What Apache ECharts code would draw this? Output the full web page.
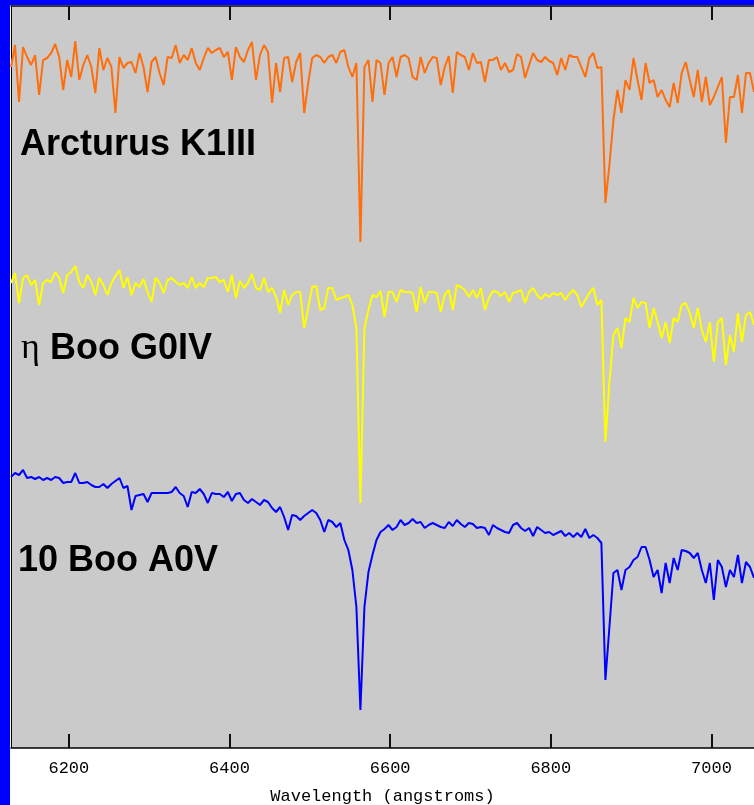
<!DOCTYPE html>
<html><head><meta charset="utf-8">
<script src="https://cdn.jsdelivr.net/npm/echarts@6/dist/echarts.min.js"></script>
<style>html,body{margin:0;padding:0;background:#fff}#c{width:754px;height:805px}</style>
</head><body><div id="c"></div>
<script>
// Wavelength sampling grid (angstroms)
const wavelengths = [
6128,6133,6138,6143,6148,6153,6158,6163,6168,6173,
6178,6183,6188,6193,6198,6203,6208,6213,6218,6223,
6228,6233,6238,6243,6248,6253,6258,6263,6268,6273,
6278,6283,6288,6293,6298,6303,6308,6313,6318,6323,
6328,6333,6338,6343,6348,6353,6358,6363,6368,6373,
6378,6383,6388,6393,6398,6403,6408,6413,6418,6423,
6428,6433,6438,6443,6448,6453,6458,6463,6468,6473,
6478,6483,6488,6493,6498,6503,6508,6513,6518,6523,
6528,6533,6538,6543,6548,6553,6558,6563,6568,6573,
6578,6583,6588,6593,6598,6603,6608,6613,6618,6623,
6628,6633,6638,6643,6648,6653,6658,6663,6668,6673,
6678,6683,6688,6693,6698,6703,6708,6713,6718,6723,
6728,6733,6738,6743,6748,6753,6758,6763,6768,6773,
6778,6783,6788,6793,6798,6803,6808,6813,6818,6823,
6828,6833,6838,6843,6848,6853,6858,6863,6868,6873,
6878,6883,6888,6893,6898,6903,6908,6913,6918,6923,
6928,6933,6938,6943,6948,6953,6958,6963,6968,6973,
6978,6983,6988,6993,6998,7003,7008,7013,7018,7023,
7028,7033,7038,7043,7048,7053];

// Relative flux (offset for display), Arcturus K1III
const arcturus = [
6.81,7.03,6.46,7.01,6.91,6.83,6.93,6.53,6.88,6.90,
6.95,7.04,6.91,6.58,6.88,6.71,7.07,6.68,6.83,6.93,
6.81,6.55,7.00,6.78,6.90,6.81,6.35,6.91,6.80,6.85,
6.86,6.75,6.95,6.81,6.56,6.86,6.91,6.75,6.63,6.91,
6.90,7.03,6.85,6.93,6.88,7.00,6.85,6.78,6.90,7.00,
6.95,6.98,7.00,6.91,6.96,6.68,7.01,6.91,6.86,6.98,
7.06,6.68,6.93,7.03,6.96,6.45,6.85,6.56,6.90,6.91,
6.66,6.86,6.95,6.35,6.65,6.90,6.93,6.91,6.85,6.91,
6.93,6.85,6.96,6.98,6.81,6.71,6.85,5.06,6.81,6.88,
6.46,6.88,6.85,6.53,6.85,6.91,6.71,6.91,6.93,6.90,
6.71,6.68,6.91,6.75,6.85,6.91,6.90,6.63,6.81,6.92,
6.55,6.96,6.93,6.91,6.78,6.95,6.85,6.86,6.66,6.88,
6.88,6.91,6.78,6.85,6.76,6.78,6.94,6.91,6.70,6.83,
6.95,6.88,6.86,6.91,6.87,6.85,6.73,6.90,6.78,6.93,
6.91,6.91,6.81,6.71,6.90,6.95,6.80,6.81,5.45,5.83,
6.28,6.58,6.35,6.68,6.58,6.90,6.68,6.48,6.85,6.65,
6.68,6.51,6.58,6.48,6.41,6.65,6.45,6.75,6.86,6.68,
6.51,6.78,6.46,6.71,6.43,6.51,6.61,6.71,6.05,6.51,
6.51,6.73,6.35,6.75,6.75,6.56];

// eta Boo G0IV
const etaBoo = [
4.65,4.75,4.45,4.70,4.73,4.63,4.68,4.43,4.65,4.68,
4.66,4.76,4.70,4.55,4.73,4.76,4.82,4.66,4.60,4.73,
4.66,4.53,4.70,4.63,4.53,4.65,4.72,4.78,4.60,4.71,
4.53,4.65,4.61,4.69,4.56,4.46,4.70,4.65,4.55,4.68,
4.70,4.66,4.63,4.65,4.60,4.71,4.60,4.65,4.61,4.70,
4.70,4.71,4.66,4.68,4.56,4.73,4.50,4.67,4.60,4.65,
4.74,4.60,4.58,4.70,4.56,4.60,4.51,4.35,4.58,4.43,
4.53,4.56,4.56,4.20,4.40,4.61,4.62,4.38,4.40,4.60,
4.60,4.48,4.50,4.51,4.53,4.43,4.20,2.45,4.20,4.38,
4.53,4.51,4.57,4.31,4.56,4.56,4.46,4.58,4.56,4.56,
4.55,4.36,4.61,4.45,4.56,4.56,4.55,4.36,4.53,4.58,
4.38,4.63,4.61,4.58,4.51,4.58,4.50,4.60,4.38,4.50,
4.57,4.56,4.52,4.56,4.46,4.55,4.56,4.58,4.45,4.56,
4.60,4.53,4.49,4.54,4.51,4.55,4.53,4.55,4.48,4.54,
4.58,4.53,4.41,4.48,4.55,4.60,4.43,4.48,3.06,3.66,
4.13,4.20,4.00,4.30,4.26,4.50,4.40,4.46,4.45,4.20,
4.40,4.26,4.10,4.26,4.05,4.30,4.26,4.43,4.45,4.35,
4.20,4.40,4.18,4.06,4.26,3.86,4.26,4.30,3.83,4.13,
3.96,4.35,4.06,4.33,4.36,4.23];

// 10 Boo A0V
const tenBoo = [
2.71,2.75,2.73,2.78,2.70,2.71,2.69,2.71,2.68,2.70,
2.68,2.71,2.70,2.65,2.66,2.66,2.75,2.65,2.65,2.66,
2.63,2.61,2.61,2.64,2.60,2.64,2.67,2.70,2.60,2.62,
2.38,2.52,2.53,2.54,2.46,2.55,2.55,2.55,2.55,2.55,
2.56,2.61,2.55,2.52,2.41,2.56,2.55,2.59,2.54,2.45,
2.55,2.54,2.54,2.51,2.56,2.47,2.54,2.55,2.48,2.45,
2.49,2.46,2.43,2.48,2.46,2.40,2.36,2.41,2.31,2.18,
2.33,2.32,2.28,2.32,2.35,2.38,2.35,2.28,2.16,2.28,
2.26,2.21,2.25,2.08,1.98,1.78,1.41,0.38,1.41,1.76,
1.93,2.08,2.16,2.19,2.23,2.18,2.21,2.28,2.23,2.25,
2.29,2.25,2.26,2.20,2.23,2.25,2.23,2.21,2.20,2.26,
2.22,2.28,2.24,2.21,2.25,2.24,2.20,2.21,2.20,2.13,
2.23,2.20,2.18,2.16,2.15,2.23,2.25,2.20,2.17,2.20,
2.12,2.21,2.18,2.15,2.16,2.13,2.15,2.17,2.12,2.15,
2.11,2.15,2.11,2.19,2.10,2.13,2.10,2.05,0.68,1.21,
1.75,1.78,1.58,1.78,1.81,1.88,1.91,2.01,2.01,1.88,
1.71,1.78,1.55,1.85,1.65,1.90,1.78,1.98,1.97,1.95,
1.90,1.95,1.78,1.65,1.85,1.48,1.88,1.81,1.61,1.78,
1.71,1.93,1.65,1.86,1.81,1.70];

const tickValues = [6200, 6400, 6600, 6800, 7000];
const xMin = 6128, xMax = 7053;
const yMin = 0, yMax = 7.42;
const axisTitle = 'Wavelength (angstroms)';

const toPairs = ys => wavelengths.map((w, i) => [w, ys[i]]);

const chart = echarts.init(document.getElementById('c'), null, {renderer: 'canvas', width: 754, height: 805});

const tickStyle = {show: true, inside: true, length: 14, lineStyle: {color: '#111', width: 2}, customValues: tickValues};

const option = {
  backgroundColor: '#ffffff',
  animation: false,
  grid: {left: 11, top: 6, right: 0, bottom: 57, containLabel: false, outerBoundsMode: 'none',
         show: true, backgroundColor: '#cacaca', borderWidth: 0},
  xAxis: [
    {
      type: 'value', min: xMin, max: xMax, position: 'bottom',
      axisLine: {show: true, onZero: false, lineStyle: {color: '#000', width: 1.5}},
      axisTick: tickStyle,
      axisLabel: {show: true, customValues: tickValues, formatter: v => String(v),
                  color: '#000', fontFamily: 'Liberation Mono', fontSize: 17, margin: 12},
      splitLine: {show: false},
      name: axisTitle, nameLocation: 'middle', nameGap: 40,
      nameTextStyle: {color: '#000', fontFamily: 'Liberation Mono', fontSize: 17}
    },
    {
      type: 'value', min: xMin, max: xMax, position: 'top',
      axisLine: {show: true, onZero: false, lineStyle: {color: '#000', width: 1.5}},
      axisTick: tickStyle,
      axisLabel: {show: false},
      splitLine: {show: false}
    }
  ],
  yAxis: {
    type: 'value', min: yMin, max: yMax,
    axisLine: {show: true, onZero: false, lineStyle: {color: '#000', width: 1}},
    axisTick: {show: false}, axisLabel: {show: false}, splitLine: {show: false}
  },
  series: [
    {name: 'Arcturus K1III', type: 'line', data: toPairs(arcturus), showSymbol: false, symbol: 'none', lineStyle: {color: '#ff6e0a', width: 2}, itemStyle: {color: '#ff6e0a'}},
    {name: 'η Boo G0IV', type: 'line', data: toPairs(etaBoo), showSymbol: false, symbol: 'none', lineStyle: {color: '#ffff00', width: 2}, itemStyle: {color: '#ffff00'}},
    {name: '10 Boo A0V', type: 'line', data: toPairs(tenBoo), showSymbol: false, symbol: 'none', lineStyle: {color: '#0000ff', width: 2}, itemStyle: {color: '#0000ff'}}
  ],
  graphic: [
    {type: 'rect', z: 100, shape: {x: 0, y: 0, width: 10, height: 805}, style: {fill: '#0000ff'}},
    {type: 'rect', z: 100, shape: {x: 0, y: 0, width: 754, height: 5}, style: {fill: '#0000ff'}},
    {type: 'text', z: 100, x: 20, y: 145, style: {text: 'Arcturus K1III', font: 'bold 36px "Liberation Sans"', fill: '#000', textVerticalAlign: 'middle'}},
    {type: 'text', z: 100, x: 21, y: 349, style: {text: 'η', font: '36px "Liberation Serif"', fill: '#000', textVerticalAlign: 'middle'}},
    {type: 'text', z: 100, x: 50, y: 349, style: {text: 'Boo G0IV', font: 'bold 36px "Liberation Sans"', fill: '#000', textVerticalAlign: 'middle'}},
    {type: 'text', z: 100, x: 18, y: 561, style: {text: '10 Boo A0V', font: 'bold 36px "Liberation Sans"', fill: '#000', textVerticalAlign: 'middle'}}
  ]
};
chart.setOption(option);
</script>
</body></html>
